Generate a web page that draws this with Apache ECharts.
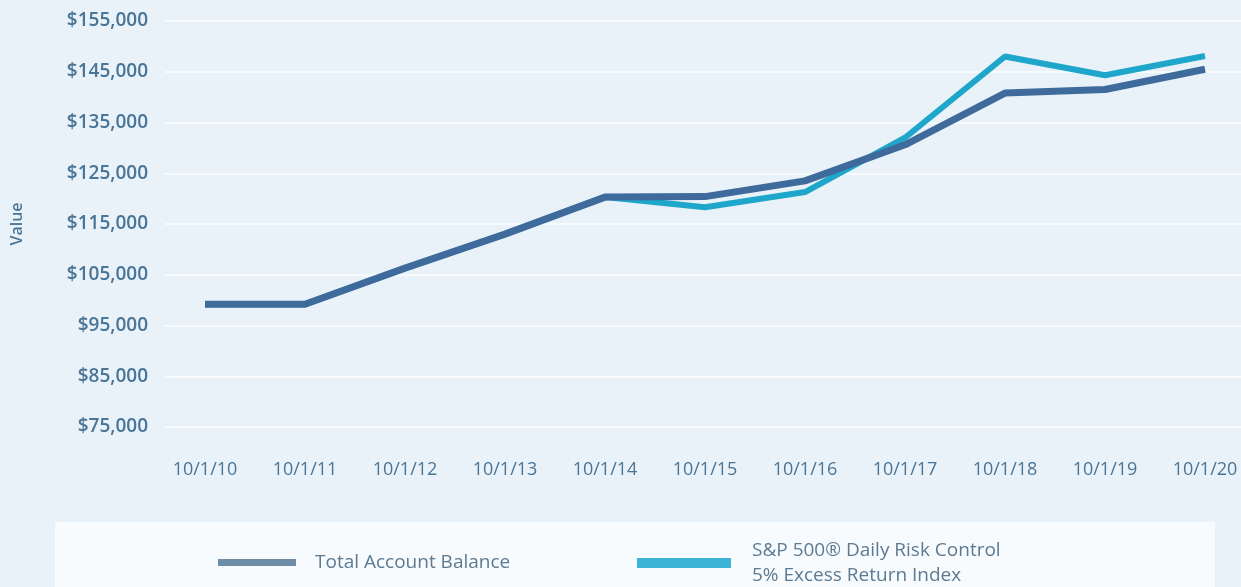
<!DOCTYPE html>
<html>
<head>
<meta charset="utf-8">
<script src="https://cdn.jsdelivr.net/npm/echarts@6/dist/echarts.min.js"></script>
<style>
  html, body { margin: 0; padding: 0; background: #e9f2f8; }
  #chart { width: 1241px; height: 587px; }
</style>
</head>
<body>
<div id="chart"></div>
<script>
// 数据
const dates = ['10/1/10', '10/1/11', '10/1/12', '10/1/13', '10/1/14', '10/1/15', '10/1/16', '10/1/17', '10/1/18', '10/1/19', '10/1/20'];
const accountBalance = [99200, 99200, 106300, 113000, 120300, 120400, 123500, 130600, 140800, 141500, 145500];
const riskControlIndex = [99200, 99200, 106300, 113000, 120300, 118300, 121300, 132000, 148000, 144300, 148100];
const yMin = 75000;
const yMax = 155000;
const yStep = 10000;

const axisColor = '#4a7597';
const darkBlue = '#3f6b9c';
const lightBlue = '#1fa6cb';
const seriesNames = ['Total Account Balance', 'S&P 500® Daily Risk Control\n5% Excess Return Index'];

// x轴用数值轴，方便网格线延伸到两侧
const dateIndex = dates.map((d, i) => i);
const toPairs = values => values.map((v, i) => [i, v]);

const chart = echarts.init(document.getElementById('chart'));

const legendText = {
    fontFamily: 'Open Sans', fontSize: 19, color: '#5c7a92', lineHeight: 25
};

const option = {
    backgroundColor: '#e9f2f8',
    animation: false,
    grid: { left: 165, right: 0, top: 21, bottom: 160 },
    graphic: [{
        type: 'rect',
        left: 55, top: 522,
        shape: { width: 1160, height: 70 },
        style: { fill: '#f8fbfd' },
        z: -1
    }],
    legend: [
        {
            left: 218, top: 550, padding: 0,
            itemWidth: 78, itemHeight: 7,
            icon: 'rect',
            data: [{ name: seriesNames[0], itemStyle: { color: '#6f8da6' } }],
            textStyle: Object.assign({ padding: [0, 0, 0, 14] }, legendText)
        },
        {
            left: 637, top: 538, padding: 0,
            itemWidth: 94, itemHeight: 10,
            icon: 'rect',
            data: [{ name: seriesNames[1], itemStyle: { color: '#3cb4d6' } }],
            textStyle: Object.assign({ padding: [0, 0, 0, 16] }, legendText)
        }
    ],
    xAxis: {
        type: 'value',
        min: -0.4, max: 10.36,
        axisLine: { show: false },
        axisTick: { show: false },
        splitLine: { show: false },
        axisLabel: {
            customValues: dateIndex,
            margin: 34, color: axisColor,
            fontFamily: 'Open Sans', fontSize: 18,
            formatter: function (v) { return dates[Math.round(v)]; }
        }
    },
    yAxis: {
        type: 'value',
        min: yMin, max: yMax, interval: yStep,
        name: 'Value',
        nameLocation: 'middle',
        nameGap: 140,
        nameTextStyle: { color: axisColor, fontFamily: 'Open Sans', fontSize: 16, fontWeight: 600 },
        axisLine: { show: false },
        axisTick: { show: false },
        splitLine: { lineStyle: { color: '#f8fbfd', width: 2 } },
        axisLabel: {
            margin: 17, color: axisColor,
            fontFamily: 'Open Sans', fontSize: 19, fontWeight: 600,
            formatter: function (v) { return '$' + v.toLocaleString('en-US'); }
        }
    },
    series: [
        {
            name: seriesNames[1],
            type: 'line',
            data: toPairs(riskControlIndex),
            showSymbol: false,
            lineStyle: { color: lightBlue, width: 6 },
            itemStyle: { color: lightBlue },
            z: 2
        },
        {
            name: seriesNames[0],
            type: 'line',
            data: toPairs(accountBalance),
            showSymbol: false,
            lineStyle: { color: darkBlue, width: 7 },
            itemStyle: { color: darkBlue },
            z: 3
        }
    ]
};

chart.setOption(option);
</script>
</body>
</html>
